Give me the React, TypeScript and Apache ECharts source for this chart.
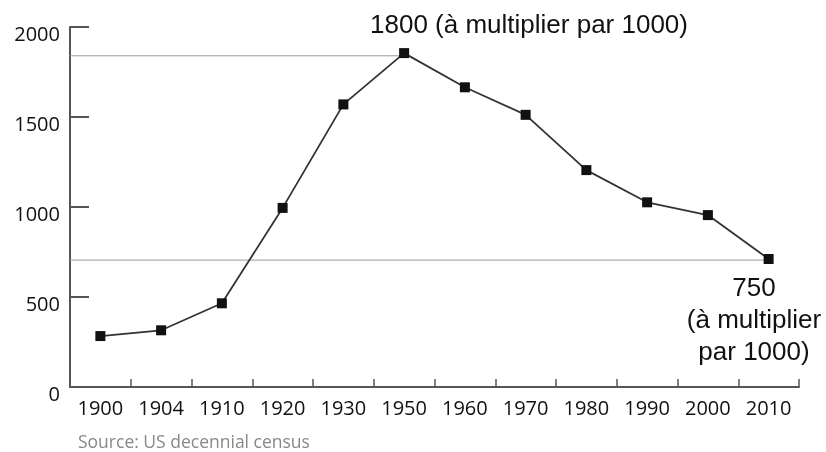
import React, { useEffect, useRef } from "react";
import * as echarts from "echarts";

const years = ["1900", "1904", "1910", "1920", "1930", "1950", "1960", "1970", "1980", "1990", "2000", "2010"];
const population = [283, 315, 465, 995, 1570, 1855, 1665, 1512, 1205, 1026, 955, 711];
const yMin = 0;
const yMax = 2000;
const yInterval = 500;
const peakRef = 1840;
const lowRef = 705;
const peakIndex = 5;
const lowIndex = 11;
const peakNote = "1800 (à multiplier par 1000)";
const lowNote = ["750", "(à multiplier", "par 1000)"];
const sourceNote = "Source: US decennial census";

export default function App() {
  const ref = useRef<HTMLDivElement>(null);
  useEffect(() => {
    if (!ref.current) return;
    const chart = echarts.init(ref.current, null, { renderer: "svg" });
    const axisColor = "#555";
    chart.setOption({
      animation: false,
      grid: [
        { left: 70, right: 27, top: 27, bottom: 65 },
        { left: 70, width: 19, top: 27, bottom: 65 },
      ],
      xAxis: [
        {
          type: "category",
          gridIndex: 0,
          data: years,
          boundaryGap: true,
          axisLine: { show: true, lineStyle: { color: axisColor, width: 2 } },
          axisTick: { show: true, inside: true, length: 8, lineStyle: { color: axisColor, width: 1.5 } },
          axisLabel: { color: "#111", fontFamily: "Open Sans", fontSize: 20, margin: 10 },
          splitLine: { show: false },
        },
        { type: "value", gridIndex: 0, min: 0, max: years.length, show: false },
        { type: "value", gridIndex: 1, min: 0, max: 1, show: false },
      ],
      yAxis: [
        {
          type: "value",
          gridIndex: 0,
          min: yMin,
          max: yMax,
          interval: yInterval,
          axisLine: { show: true, onZero: false, lineStyle: { color: axisColor, width: 2 } },
          axisTick: { show: true, inside: true, length: 19, lineStyle: { color: axisColor, width: 2 } },
          axisLabel: {
            color: "#111",
            fontFamily: "Open Sans",
            fontSize: 20,
            margin: 10,
            verticalAlign: "top",
            lineHeight: 12,
            formatter: (v: number) => String(v),
          },
          splitLine: { show: false },
        },
        {
          type: "value",
          gridIndex: 1,
          min: yMin,
          max: yMax,
          interval: yInterval,
          axisLine: { show: false },
          axisTick: { show: false },
          axisLabel: { show: false },
          splitLine: { show: true, lineStyle: { color: axisColor, width: 2 } },
        },
      ],
      series: [
        {
          type: "line",
          xAxisIndex: 2,
          yAxisIndex: 1,
          data: [],
          symbol: "none",
        },
        {
          type: "line",
          xAxisIndex: 1,
          yAxisIndex: 0,
          data: [[0, peakRef], [peakIndex + 0.5, peakRef]],
          symbol: "none",
          lineStyle: { color: "#999", width: 1 },
          silent: true,
        },
        {
          type: "line",
          xAxisIndex: 1,
          yAxisIndex: 0,
          data: [[0, lowRef], [lowIndex + 0.5, lowRef]],
          symbol: "none",
          lineStyle: { color: "#999", width: 1 },
          silent: true,
        },
        {
          type: "line",
          xAxisIndex: 0,
          yAxisIndex: 0,
          data: population,
          symbol: "rect",
          symbolSize: 10,
          itemStyle: { color: "#111" },
          lineStyle: { color: "#333", width: 1.8 },
          z: 3,
        },
      ],
      graphic: [
        {
          type: "text",
          x: 529,
          y: 24,
          style: {
            text: peakNote,
            fill: "#111",
            font: "26px 'Liberation Sans', Arial, sans-serif",
            align: "center",
            verticalAlign: "middle",
          },
        },
        {
          type: "text",
          x: 754,
          y: 271,
          style: {
            text: lowNote.join("\n"),
            fill: "#111",
            font: "26px 'Liberation Sans', Arial, sans-serif",
            lineHeight: 32,
            align: "center",
          },
        },
        {
          type: "text",
          x: 78,
          y: 432,
          style: {
            text: sourceNote,
            fill: "#888",
            font: "17.5px 'Open Sans', sans-serif",
          },
        },
      ],
    });
    return () => chart.dispose();
  }, []);
  return <div ref={ref} style={{ position: "fixed", left: 0, top: 0, width: 826, height: 452 }} />;
}
